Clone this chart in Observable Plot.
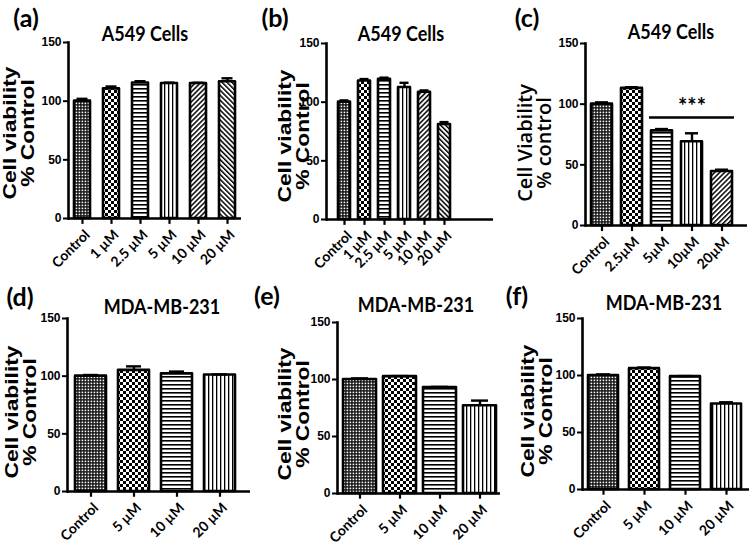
<!DOCTYPE html>
<html><head><meta charset="utf-8">
<script src="https://cdn.jsdelivr.net/npm/d3@7"></script>
<script src="https://cdn.jsdelivr.net/npm/@observablehq/plot@0.6"></script>
<style>
html,body{margin:0;padding:0;background:#fff;}
#fig{position:relative;width:750px;height:554px;overflow:hidden;background:#fff;}
.lab{position:absolute;font-family:Lato,sans-serif;font-weight:700;color:#000;white-space:nowrap;line-height:1;transform:translate(-50%,-50%) scaleY(1.2);}
.plab{position:absolute;font-family:Lato,sans-serif;font-weight:700;color:#000;white-space:nowrap;line-height:1.1;font-size:25px;transform:translate(-50%,-50%);}
.ytitle{position:absolute;font-family:"Liberation Sans",Arial,sans-serif;font-weight:700;font-size:19px;line-height:18px;text-align:center;white-space:nowrap;color:#000;transform:translate(-50%,-50%) rotate(-90deg) scaleX(1.2);}
.ytitle.c{font-family:"Open Sans",sans-serif;font-weight:600;font-size:19px;line-height:19px;transform:translate(-50%,-50%) rotate(-90deg) scaleX(1.05);}
svg.pnl{position:absolute;}
svg.pnl g[aria-label="y-axis tick"]{stroke-width:2;}
</style></head><body>
<svg width="0" height="0" style="position:absolute">
<defs>
<pattern id="dots" width="3" height="3" patternUnits="userSpaceOnUse"><rect width="3" height="3" fill="#111"/><rect x="0.6" y="0.6" width="1.6" height="1.6" fill="#fff"/></pattern>
<pattern id="checker" width="6" height="6" patternUnits="userSpaceOnUse"><rect width="6" height="6" fill="#fff"/><rect width="3" height="3" fill="#000"/><rect x="3" y="3" width="3" height="3" fill="#000"/></pattern>
<pattern id="hlines" width="4" height="4" patternUnits="userSpaceOnUse"><rect width="4" height="4" fill="#fff"/><rect width="4" height="1.6" fill="#000"/></pattern>
<pattern id="vlines" width="4" height="4" patternUnits="userSpaceOnUse"><rect width="4" height="4" fill="#fff"/><rect width="1.3" height="4" fill="#000"/></pattern>
<pattern id="diagR" width="3.5" height="3.5" patternUnits="userSpaceOnUse" patternTransform="rotate(45)"><rect width="3.5" height="3.5" fill="#fff"/><rect width="1.5" height="3.5" fill="#000"/></pattern>
<pattern id="diagL" width="3.5" height="3.5" patternUnits="userSpaceOnUse" patternTransform="rotate(-45)"><rect width="3.5" height="3.5" fill="#fff"/><rect width="1.5" height="3.5" fill="#000"/></pattern>
</defs></svg>
<div id="fig"></div>
<script>
// ---- data ----
const catsA = ["Control", "1 µM", "2.5 µM", "5 µM", "10 µM", "20 µM"];
const meanA = [100, 110.5, 115.5, 115, 115, 116.5];
const errA  = [2, 2, 1.5, 0.8, 0.7, 3];

const catsB = ["Control", "1 µM", "2.5 µM", "5 µM", "10 µM", "20 µM"];
const meanB = [100, 118, 119.5, 112.5, 108.5, 81];
const errB  = [1.5, 1.7, 1.4, 4, 1.5, 2];

const catsC = ["Control", "2.5µM", "5µM", "10µM", "20µM"];
const meanC = [100, 113, 78, 69, 44.5];
const errC  = [1.5, 1, 1.5, 7, 1.5];
const sigC = [{from: "5µM", to: "20µM", y: 89, label: "***"}];

const catsD = ["Control", "5 µM", "10 µM", "20 µM"];
const meanD = [100, 105, 102, 101];
const errD  = [1, 3.5, 2, 0.5];

const catsE = ["Control", "5 µM", "10 µM", "20 µM"];
const meanE = [100, 102.5, 93, 77];
const errE  = [1, 0.5, 0.5, 4.5];

const catsF = ["Control", "5 µM", "10 µM", "20 µM"];
const meanF = [100, 106, 99, 75];
const errF  = [1, 1, 0.5, 1.5];

const yTicks = [0, 50, 100, 150];
const titles = ["A549 Cells", "A549 Cells", "A549 Cells", "MDA-MB-231", "MDA-MB-231", "MDA-MB-231"];
const panelLabels = ["(a)", "(b)", "(c)", "(d)", "(e)", "(f)"];
const yTitleStd = "Cell viability\n% Control";
const yTitleC = "Cell Viability\n% control";

// ---- styles (patterns) ----
const pat6 = ["url(#dots)", "url(#checker)", "url(#hlines)", "url(#vlines)", "url(#diagR)", "url(#diagL)"];
const pat5 = ["url(#dots)", "url(#checker)", "url(#hlines)", "url(#vlines)", "url(#diagR)"];
const pat4 = ["url(#dots)", "url(#checker)", "url(#hlines)", "url(#vlines)"];

// ---- layout ----
const panels = [
  {cats: catsA, mean: meanA, err: errA, pats: pat6, left: 0, top: 0, w: 250, h: 280, mL: 68, mR: 9, mT: 42, mB: 62, pi: 0.465, po: 0.13, align: 0.5, cap: 2.5,
   title: [145, 33], plab: [26, 18], yt: [19, 133], ytc: false},
  {cats: catsB, mean: meanB, err: errB, pats: pat6, left: 250, top: 0, w: 250, h: 280, mL: 76, mR: 7, mT: 43, mB: 61, pi: 0.4, po: 1.21, align: 0.226, cap: 1.5,
   title: [401, 33], plab: [275, 18], yt: [294, 136], ytc: false},
  {cats: catsC, mean: meanC, err: errC, pats: pat5, left: 500, top: 0, w: 250, h: 280, mL: 85, mR: 3, mT: 43, mB: 55, pi: 0.29, po: 0.265, align: 0.31, cap: 4, sig: sigC,
   title: [671, 31], plab: [527, 18], yt: [535, 143], ytc: true},
  {cats: catsD, mean: meanD, err: errD, pats: pat4, left: 0, top: 280, w: 250, h: 274, mL: 67, mR: 0, mT: 38, mB: 63, pi: 0.28, po: 0.22, align: 0.36, cap: 8,
   title: [162, 306], plab: [20, 297], yt: [21, 412], ytc: false},
  {cats: catsE, mean: meanE, err: errE, pats: pat4, left: 250, top: 280, w: 250, h: 274, mL: 87, mR: 0, mT: 42, mB: 61, pi: 0.18, po: 0.115, align: 0.54, cap: 8,
   title: [416, 304], plab: [267, 296], yt: [294, 414], ytc: false},
  {cats: catsF, mean: meanF, err: errF, pats: pat4, left: 500, top: 280, w: 250, h: 274, mL: 82, mR: 1, mT: 38, mB: 65, pi: 0.27, po: 0.157, align: 0.46, cap: 8,
   title: [664, 302], plab: [517, 296], yt: [537, 411], ytc: false}
];

const fig = document.getElementById("fig");

panels.forEach((p, k) => {
  const data = p.cats.map((c, i) => ({c, v: p.mean[i], e: p.err[i], fill: p.pats[i]}));
  const marks = [
    Plot.barY(data, {x: "c", y: "v", fill: "fill", stroke: "#000", strokeWidth: 2.6, strokeLinejoin: "round"}),
    Plot.ruleX(data, {x: "c", y1: "v", y2: d => d.v + d.e, stroke: "#000", strokeWidth: 2.4}),
    Plot.tickY(data, {x: "c", y: d => d.v + d.e, stroke: "#000", strokeWidth: 2.4, insetLeft: p.cap, insetRight: p.cap}),
    // x-axis tick marks hanging below the baseline
    Plot.ruleX(p.cats, {x: d => d, y1: 0, y2: -5, stroke: "#000", strokeWidth: 2.2}),
    Plot.axisX({tickRotate: -45, tickSize: 0, tickPadding: 9, label: null, dx: 5, dy: 5,
      fontSize: 14, fontWeight: "bold", fontFamily: "Lato, sans-serif"}),
    Plot.ruleY([0], {stroke: "#000", strokeWidth: 2.6}),
    Plot.frame({anchor: "left", stroke: "#000", strokeWidth: 2.6}),
    Plot.axisY({ticks: yTicks, tickSize: 5, tickPadding: 2, label: null,
      fontSize: 12, fontWeight: "bold", fontFamily: "Liberation Sans Narrow, Liberation Sans, sans-serif"})
  ];
  if (p.sig) {
    marks.push(Plot.ruleY(p.sig, {y: "y", x1: "from", x2: "to", stroke: "#000", strokeWidth: 2.4, insetLeft: -2, insetRight: -2}));
    marks.push(Plot.text(p.sig, {x: d => p.cats[p.cats.indexOf(d.from) + 1], y: d => d.y + 3, text: "label", fontSize: 22, fontWeight: "bold", fontFamily: "Lato, sans-serif", lineAnchor: "bottom"}));
  }
  const svg = Plot.plot({
    width: p.w, height: p.h,
    marginLeft: p.mL, marginRight: p.mR, marginTop: p.mT, marginBottom: p.mB,
    x: {type: "band", domain: p.cats, paddingInner: p.pi, paddingOuter: p.po, align: p.align, label: null},
    y: {domain: [0, 150], label: null},
    color: {type: "identity"},
    style: {background: "transparent", overflow: "visible", color: "#000"},
    marks
  });
  svg.classList.add("pnl");
  svg.style.left = p.left + "px";
  svg.style.top = p.top + "px";
  svg.style.maxWidth = "none";
  fig.appendChild(svg);

  const t = document.createElement("div");
  t.className = "lab"; t.style.fontSize = "18px";
  t.style.left = p.title[0] + "px"; t.style.top = p.title[1] + "px";
  t.textContent = titles[k];
  fig.appendChild(t);

  const pl = document.createElement("div");
  pl.className = "plab";
  pl.style.left = p.plab[0] + "px"; pl.style.top = p.plab[1] + "px";
  pl.textContent = panelLabels[k];
  fig.appendChild(pl);

  const yt = document.createElement("div");
  yt.className = "ytitle" + (p.ytc ? " c" : "");
  yt.style.left = p.yt[0] + "px"; yt.style.top = p.yt[1] + "px";
  const lines = (p.ytc ? yTitleC : yTitleStd).split("\n");
  yt.innerHTML = lines.map(s => s.replace(/&/g, "&amp;")).join("<br>");
  fig.appendChild(yt);
});
</script>
</body></html>
